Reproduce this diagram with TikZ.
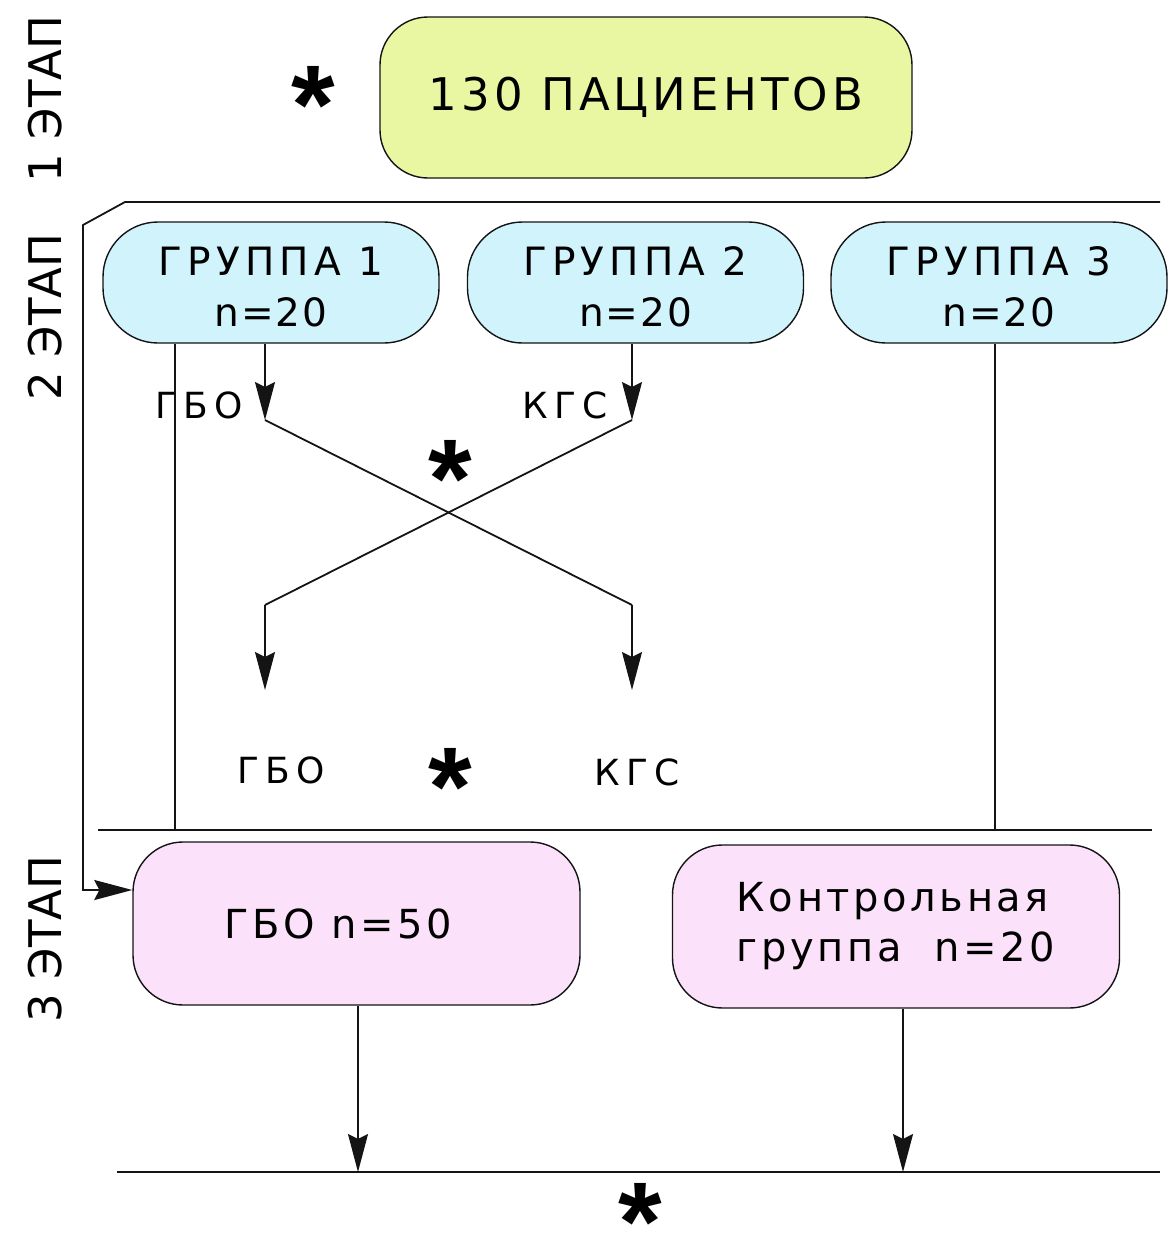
\documentclass[tikz,border=0pt]{standalone}
\usepackage{fontspec}
\setmainfont{DejaVu Sans}
\newfontfamily\lsA{DejaVu Sans}[LetterSpace=5]
\newfontfamily\lsB{DejaVu Sans}[LetterSpace=9]
\newfontfamily\lsG{DejaVu Sans}[LetterSpace=13]
\newfontfamily\lsC{DejaVu Sans}[LetterSpace=17]
\newfontfamily\starfont{Liberation Sans}
\usetikzlibrary{arrows.meta}
\definecolor{ylw}{RGB}{233,247,163}
\definecolor{cyn}{RGB}{208,243,252}
\definecolor{pnk}{RGB}{251,225,250}
\definecolor{ink}{RGB}{20,20,20}
\begin{document}
\begin{tikzpicture}[x=1pt,y=-1pt,line width=1.8pt,draw=ink,
  arr/.style={-{Stealth[length=38pt,width=20pt,inset=5pt]}},
  box/.style={draw=ink,line width=1.4pt,inner sep=0pt,align=center},
  topbox/.style={box,fill=ylw,rounded corners=48pt,minimum width=532pt,minimum height=161pt,
    font=\fontsize{45}{50}\selectfont\lsB},
  grpbox/.style={box,fill=cyn,rounded corners=55pt,minimum width=336pt,minimum height=121pt,
    font=\fontsize{39}{51}\selectfont},
  pinkbox/.style={box,fill=pnk,rounded corners=50pt,minimum width=447pt,minimum height=163pt,
    font=\fontsize{40}{50}\selectfont\lsB},
  lbl/.style={inner sep=0pt,font=\fontsize{36}{36}\selectfont\lsC},
  stage/.style={inner sep=0pt,rotate=90,font=\fontsize{45}{45}\selectfont},
  asterisk/.style={inner sep=0pt,font=\starfont\bfseries\fontsize{112}{112}\selectfont},
]
\useasboundingbox (0,0) rectangle (1168,1234);

% stage labels
\node[stage] (st1) at (45,99) {1 ЭТАП};
\node[stage] (st2) at (45,317) {2 ЭТАП};
\node[stage] (st3) at (45,939) {3 ЭТАП};

% boxes
\node[topbox] (p) at (646,97.5) {130 ПАЦИЕНТОВ};
\node[grpbox] (g1) at (271,282.5) {{\lsG\rule{0pt}{37pt}ГРУППА 1}\\{\lsA n=20}};
\node[grpbox] (g2) at (635.5,282.5) {{\lsG\rule{0pt}{37pt}ГРУППА 2}\\{\lsA n=20}};
\node[grpbox] (g3) at (999,282.5) {{\lsG\rule{0pt}{37pt}ГРУППА 3}\\{\lsA n=20}};
\node[pinkbox] (k1) at (356.5,923.5) {ГБО n=50\hspace*{36pt}};
\node[pinkbox,align=left] (k2) at (896,926.5) {Контрольная\\группа\ \ n=20};

% stars
\node[asterisk] (s1) at (313,93) {\smash{\raisebox{-0.455em}{*}}};
\node[asterisk] (s2) at (450,467) {\smash{\raisebox{-0.455em}{*}}};
\node[asterisk] (s3) at (450,775) {\smash{\raisebox{-0.455em}{*}}};
\node[asterisk] (s4) at (640,1210) {\smash{\raisebox{-0.455em}{*}}};

% labels
\node[lbl] (l1) at (199,405) {ГБО};
\node[lbl] (l2) at (565,405) {КГС};
\node[lbl] (l3) at (281,770) {ГБО};
\node[lbl] (l4) at (637,772) {КГС};

% coordinates
\coordinate (a1) at (265,420);
\coordinate (a2) at (632,420);
\coordinate (b1) at (632,605);
\coordinate (b2) at (265,605);
\coordinate (e1) at (265,690);
\coordinate (e2) at (632,690);
\coordinate (v1) at (175,830);
\coordinate (v3) at (995,830);
\coordinate (barL) at (98,830);
\coordinate (barR) at (1152,830);
\coordinate (t1) at (1160,202);
\coordinate (t2) at (125,202);
\coordinate (t3) at (83,225);
\coordinate (t4) at (83,890);
\coordinate (f1) at (358,1172);
\coordinate (f2) at (903,1172);
\coordinate (hL) at (117,1172);
\coordinate (hR) at (1160,1172);

% connectors
\draw[arr] (g1.south -| a1) -- (a1);
\draw[arr] (g2.south -| a2) -- (a2);
\draw (a1) -- (b1);
\draw (a2) -- (b2);
\draw[arr] (b1) -- (e2);
\draw[arr] (b2) -- (e1);
\draw (g1.south -| v1) -- (v1);
\draw (g3.south -| v3) -- (v3);
\draw (barL) -- (barR);
\draw[arr] (t1) -- (t2) -- (t3) -- (t4) -- (k1.west |- t4);
\draw[arr] (k1.south -| f1) -- (f1);
\draw[arr] (k2.south -| f2) -- (f2);
\draw (hL) -- (hR);
\end{tikzpicture}
\end{document}
